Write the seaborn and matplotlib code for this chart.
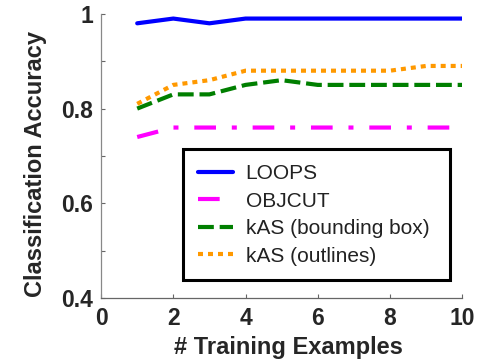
import matplotlib
matplotlib.use("Agg")
import matplotlib.pyplot as plt
import seaborn as sns
import pandas as pd
from matplotlib.ticker import MultipleLocator

x = [1, 2, 3, 4, 5, 6, 7, 8, 9, 10]
loops = [0.98, 0.99, 0.98, 0.99, 0.99, 0.99, 0.99, 0.99, 0.99, 0.99]
objcut = [0.74, 0.76, 0.76, 0.76, 0.76, 0.76, 0.76, 0.76, 0.76, 0.76]
kas_bbox = [0.80, 0.83, 0.83, 0.85, 0.86, 0.85, 0.85, 0.85, 0.85, 0.85]
kas_outlines = [0.81, 0.85, 0.86, 0.88, 0.88, 0.88, 0.88, 0.88, 0.89, 0.89]
series_names = ["LOOPS", "OBJCUT", "kAS (bounding box)", "kAS (outlines)"]
x_ticks = [0, 2, 4, 6, 8, 10]
y_ticks = [0.4, 0.6, 0.8, 1.0]
y_tick_labels = ["0.4", "0.6", "0.8", "1"]

sns.set_style("ticks")
plt.rcParams["font.family"] = ["Liberation Sans", "DejaVu Sans"]

fig = plt.figure(figsize=(4.86, 3.64), dpi=100)
ax = fig.add_axes([0.208, 0.181, 0.743, 0.781])

values = [loops, objcut, kas_bbox, kas_outlines]
colors = ["#0000ff", "#ff00ff", "#007f00", "#ff9900"]
styles = ["-", (0, (5.2, 3.8, 1.2, 3.8)), (0, (3.8, 1.4)), (0, (1.2, 1.2))]
widths = [3.0, 3.0, 3.0, 3.0]
for name, vals, c, ls, lw in zip(series_names, values, colors, styles, widths):
    df = pd.DataFrame({"x": x, "y": vals})
    sns.lineplot(data=df, x="x", y="y", ax=ax, color=c, linestyle=ls, linewidth=lw, label=name)

ax.set_xlim(0, 10)
ax.set_ylim(0.4, 1.0)
ax.set_xticks(x_ticks)
ax.set_xticklabels([str(t) for t in x_ticks], fontweight="bold", fontsize=16.5)
ax.set_yticks(y_ticks)
ax.set_yticklabels(y_tick_labels, fontweight="bold", fontsize=16.5)
ax.yaxis.set_minor_locator(MultipleLocator(0.1))
ax.tick_params(axis="both", which="both", direction="in", length=3, width=0.8, color="#666666")
ax.tick_params(axis="x", which="major", pad=6.5)
ax.tick_params(axis="y", which="major", pad=5.5)
for s in ["top", "right"]:
    ax.spines[s].set_visible(False)
ax.spines["left"].set_color("#888888")
ax.spines["bottom"].set_color("#666666")
ax.spines["left"].set_linewidth(0.9)
ax.spines["bottom"].set_linewidth(0.9)

ax.set_xlabel("# Training Examples", fontweight="bold", fontsize=17)
ax.set_ylabel("Classification Accuracy", fontweight="bold", fontsize=17)
ax.xaxis.set_label_coords(0.52, -0.134)
ax.yaxis.set_label_coords(-0.15, 0.472)

leg = ax.legend(loc="lower left", bbox_to_anchor=(0.227, 0.063, 0.74, 0.47), mode="expand",
                fancybox=False, frameon=True, fontsize=15, handlelength=1.7,
                borderpad=0.7, labelspacing=0.41, handletextpad=0.6, borderaxespad=0)
leg.get_frame().set_edgecolor("black")
leg.get_frame().set_linewidth(2.2)
leg.get_frame().set_alpha(1)
for t in leg.get_texts():
    t.set_color("#222222")

fig.savefig("out.png", dpi=100)
